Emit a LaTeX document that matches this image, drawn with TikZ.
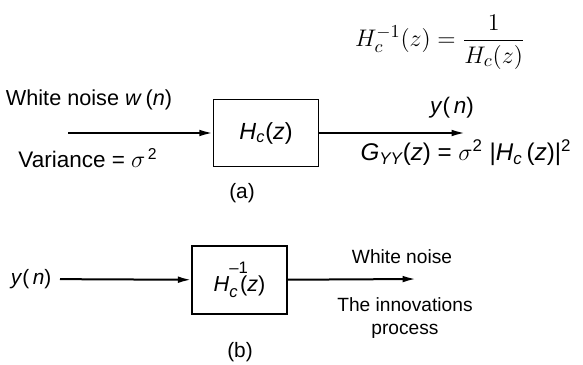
\documentclass[tikz,border=0pt]{standalone}
\usepackage{amsmath,amssymb}
\usepackage[no-math]{fontspec}
\setmainfont{Liberation Sans}
\usepackage{tikz}
\usetikzlibrary{positioning,calc,arrows.meta}
\newcommand{\Hc}{\textit{H}$_{\textit{c}}$}
\newcommand{\Hci}{\textit{H}\rlap{\raisebox{1.6ex}{\fontsize{10}{12}\selectfont--1}}\raisebox{-0.55ex}{\fontsize{10}{12}\selectfont\textit{c}\kern1.5pt}}
\tikzset{
  blk/.style={draw=black,line width=0.9pt,minimum width=63pt,minimum height=40pt,inner sep=0pt},
  sig/.style={draw=black,line width=1.2pt,-{Latex[length=8pt,width=4pt]}},
  lbl/.style={inner sep=1pt,font=\fontsize{11.5}{14}\selectfont},
  lblA/.style={inner sep=1pt,font=\fontsize{13.5}{16}\selectfont},
}
\begin{document}
\begin{tikzpicture}[x=0.6pt,y=-0.6pt]
        \useasboundingbox (0,0) rectangle (583,364);
        % (a) shaping filter
        \node[blk,font=\fontsize{14}{16}\selectfont] (hA) at (266,133) {\Hc(\textit{z})};
        \coordinate (inA) at (68,133);
        \coordinate (outA) at (465,133);
        \draw[sig] (inA)--(hA);
        \draw[sig] (hA)--(outA);
        \node[lblA,font=\fontsize{13}{16}\selectfont] (wn) at (89,100) {White noise \textit{w}\,(\textit{n})};
        \node[lblA] (var) at (88,158) {Variance = $\sigma^{\,\text{2}}$};
        \node[lblA] (ynA) at (452,108) {\textit{y}(\,\textit{n})};
        \node[lblA,font=\fontsize{14.5}{17}\selectfont] (gyy) at (466,153) {\textit{G}$_{\textit{YY}}$(\textit{z}) = $\sigma^{\text{2}}$ |\Hc\,(\textit{z})|$^{\text{2}}$};
        \node[lbl,font=\fontsize{12.5}{15}\selectfont] (capA) at (242,193) {(a)};
        \node (inv) at (440,42) {\fontsize{15}{18}\selectfont$H_c^{-1}(z)=\dfrac{1}{H_c(z)}$};
        % (b) whitening filter
        \node[blk,minimum width=57pt,minimum height=41pt,font=\fontsize{13}{15}\selectfont] (hB) at (239.5,280) {\Hci(\textit{z})};
        \node[lbl,anchor=east,inner sep=5pt,font=\fontsize{12.5}{15}\selectfont] (ynB) at (60,279) {\textit{y}(\,\textit{n})};
        \coordinate (outB) at (416,279);
        \draw[sig] (ynB)--(hB);
        \draw[sig] (hB)--(outB);
        \node[lbl] (wnB) at (402,257) {White noise};
        \node[lbl,align=center] (innov) at (405,318) {The innovations\\process};
        \node[lbl,font=\fontsize{12.5}{15}\selectfont] (capB) at (240,352) {(b)};
      \end{tikzpicture}
\end{document}
